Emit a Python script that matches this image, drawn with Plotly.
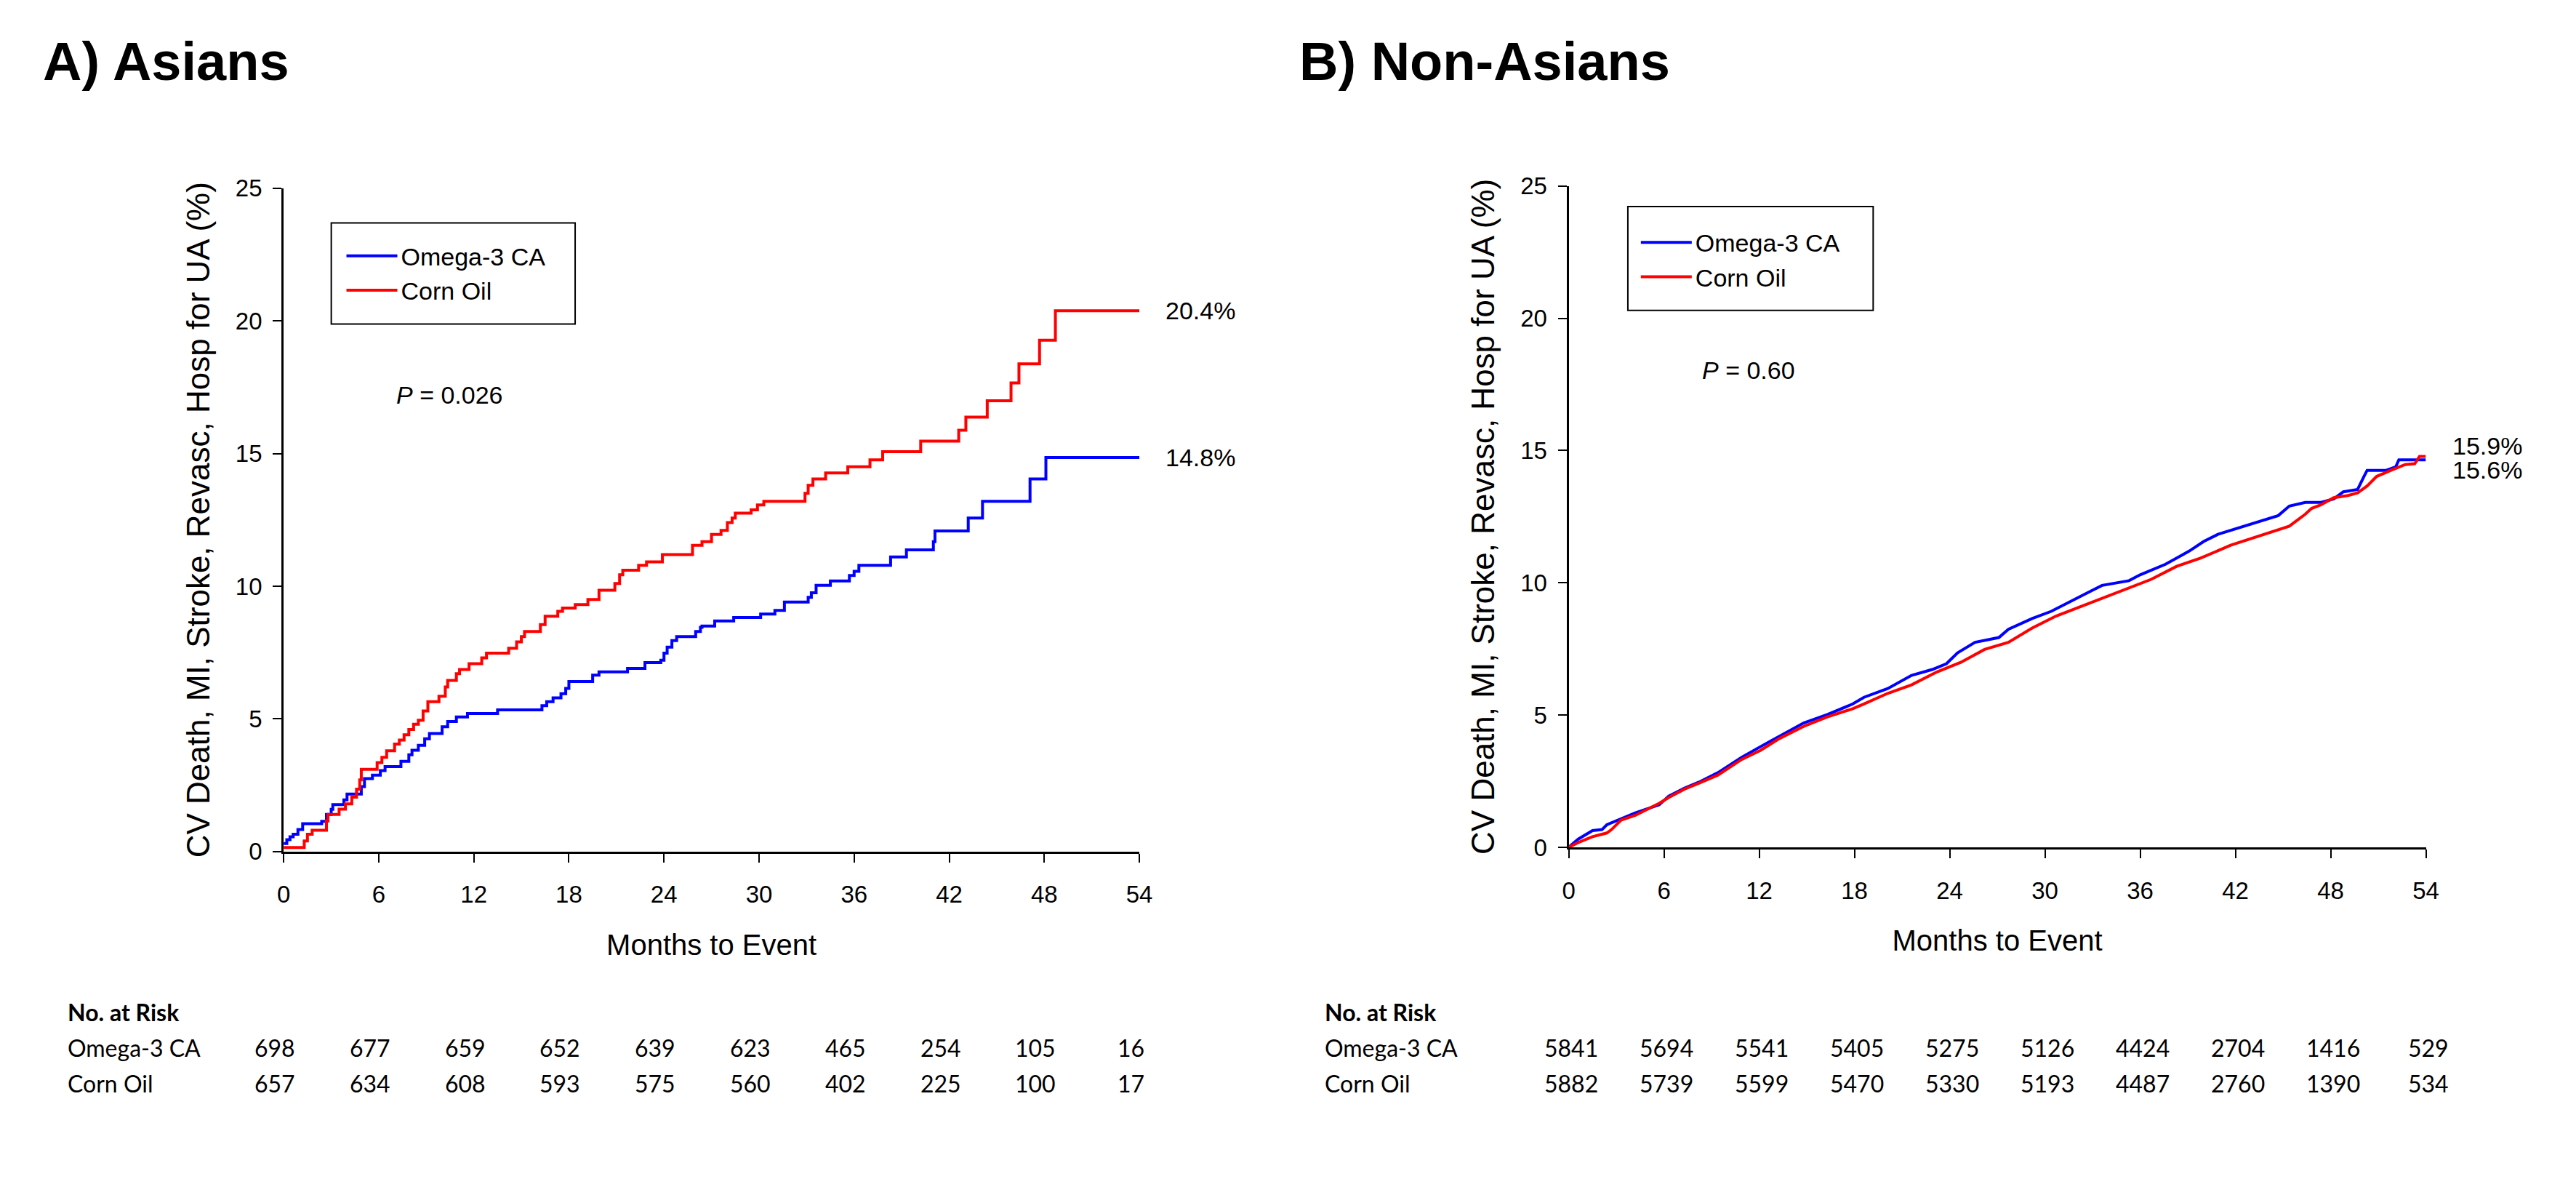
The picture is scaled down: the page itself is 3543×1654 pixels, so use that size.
import plotly.graph_objects as go

W, H = 3543, 1654

# ---------------- data ----------------
month_ticks = [0, 6, 12, 18, 24, 30, 36, 42, 48, 54]
y_ticks = [0, 5, 10, 15, 20, 25]

# Panel A (Asians) - step curves
a_omega_x = [0, 0.2, 0.4, 0.6, 0.9, 1.2, 2.4, 2.7, 3.0, 3.1, 3.8, 4.0, 4.9, 5.1, 5.6, 6.1, 6.4, 7.4, 7.9, 8.1,
             8.5, 8.9, 9.2, 10.0, 10.35, 10.9, 11.6, 13.5, 16.3, 16.6, 17.0, 17.5, 17.8, 18.0, 19.5, 19.9, 21.7,
             22.8, 23.8, 24.0, 24.2, 24.5, 24.8, 26.0, 26.3, 26.4, 27.2, 28.4, 30.1, 31.0, 31.6, 33.1, 33.3, 33.6,
             34.5, 35.7, 36.0, 36.3, 38.3, 39.3, 41.0, 41.1, 43.2, 44.1, 47.1, 48.1, 54.0]
a_omega_y = [0.3, 0.45, 0.56, 0.65, 0.83, 1.05, 1.14, 1.4, 1.59, 1.77, 1.95, 2.17, 2.45, 2.75, 2.88, 3.05, 3.2,
             3.4, 3.65, 3.82, 4.0, 4.25, 4.45, 4.7, 4.9, 5.07, 5.2, 5.34, 5.5, 5.65, 5.79, 5.95, 6.15, 6.41, 6.65,
             6.77, 6.9, 7.12, 7.21, 7.48, 7.7, 7.95, 8.1, 8.29, 8.45, 8.5, 8.69, 8.82, 8.95, 9.09, 9.4, 9.58, 9.75,
             10.03, 10.2, 10.4, 10.56, 10.79, 11.1, 11.37, 11.68, 12.08, 12.57, 13.2, 14.04, 14.85, 14.85]

a_corn_x = [0, 1.3, 1.5, 1.8, 2.7, 2.8, 3.5, 3.9, 4.3, 4.6, 4.8, 4.9, 5.9, 6.2, 6.5, 7.0, 7.3, 7.6, 7.9, 8.2,
            8.5, 8.8, 9.1, 9.8, 10.2, 10.35, 10.9, 11.1, 11.7, 12.5, 12.8, 14.2, 14.7, 15.0, 15.2, 16.2, 16.5,
            17.3, 17.6, 18.4, 19.2, 19.9, 20.9, 21.2, 21.4, 22.4, 22.9, 23.9, 25.8, 26.4, 27.0, 27.6, 28.0, 28.3,
            28.5, 29.5, 29.9, 30.3, 32.9, 33.1, 33.4, 34.2, 35.6, 37.0, 37.8, 40.2, 42.6, 43.05, 44.4, 45.9,
            46.4, 47.7, 48.7, 54.0]
a_corn_y = [0.15, 0.4, 0.65, 0.8, 1.15, 1.4, 1.6, 1.8, 2.05, 2.35, 2.7, 3.1, 3.35, 3.55, 3.8, 4.05, 4.2, 4.4,
            4.6, 4.8, 4.95, 5.3, 5.65, 5.85, 6.2, 6.45, 6.7, 6.86, 7.08, 7.3, 7.48, 7.66, 7.9, 8.1, 8.29, 8.55,
            8.87, 9.05, 9.18, 9.31, 9.5, 9.85, 10.1, 10.43, 10.6, 10.79, 10.92, 11.19, 11.54, 11.68, 11.95, 12.1,
            12.4, 12.57, 12.75, 12.88, 13.06, 13.2, 13.5, 13.8, 14.04, 14.27, 14.5, 14.76, 15.07, 15.47, 15.88,
            16.37, 16.99, 17.66, 18.38, 19.27, 20.38, 20.38]

# Panel B (Non-Asians)
b_omega_x = [0, 0.6, 1.5, 2.1, 2.4, 3.3, 4.2, 5.7, 6.3, 7.3, 8.2, 9.4, 10.9, 12.1, 13.3, 14.8, 16.3, 17.9, 18.6,
             20.1, 21.6, 22.9, 23.8, 24.5, 25.6, 27.1, 27.7, 29.2, 30.4, 31.5, 33.0, 33.6, 35.3, 36.0, 37.6, 39.1,
             40.0, 40.9, 42.4, 43.6, 44.7, 45.4, 46.4, 47.4, 48.2, 48.8, 49.7, 50.1, 50.3, 51.5, 52.1, 52.3, 53.3,
             54.0]
b_omega_y = [0, 0.31, 0.63, 0.67, 0.85, 1.08, 1.3, 1.61, 1.93, 2.24, 2.46, 2.82, 3.4, 3.81, 4.21, 4.7, 5.02,
             5.42, 5.67, 6.0, 6.5, 6.72, 6.94, 7.35, 7.75, 7.93, 8.24, 8.65, 8.92, 9.27, 9.72, 9.9, 10.08, 10.3,
             10.7, 11.2, 11.56, 11.83, 12.1, 12.32, 12.54, 12.9, 13.04, 13.04, 13.17, 13.44, 13.53, 14.02, 14.25,
             14.25, 14.38, 14.65, 14.65, 14.65]

b_corn_x = [0, 0.6, 1.5, 2.4, 2.7, 3.3, 4.2, 5.7, 6.3, 7.3, 8.2, 9.4, 10.9, 12.1, 13.3, 14.8, 16.3, 17.9, 18.6,
            20.1, 21.6, 23.2, 24.7, 26.2, 27.7, 29.2, 30.7, 32.2, 33.8, 35.3, 36.7, 38.3, 39.8, 41.7, 42.9, 44.4,
            45.4, 46.4, 46.8, 47.4, 48.2, 49.1, 49.7, 50.3, 50.9, 51.8, 52.7, 53.3, 53.6, 54.0]
b_corn_y = [0, 0.18, 0.4, 0.54, 0.67, 1.03, 1.21, 1.66, 1.88, 2.2, 2.42, 2.73, 3.32, 3.67, 4.12, 4.57, 4.93,
            5.24, 5.42, 5.82, 6.14, 6.63, 6.99, 7.48, 7.75, 8.29, 8.74, 9.09, 9.45, 9.81, 10.13, 10.62, 10.93,
            11.42, 11.65, 11.92, 12.14, 12.59, 12.81, 12.95, 13.22, 13.3, 13.4, 13.66, 14.02, 14.25, 14.47, 14.5,
            14.78, 14.78]

series_names = ["Omega-3 CA", "Corn Oil"]
a_risk_omega = [698, 677, 659, 652, 639, 623, 465, 254, 105, 16]
a_risk_corn = [657, 634, 608, 593, 575, 560, 402, 225, 100, 17]
b_risk_omega = [5841, 5694, 5541, 5405, 5275, 5126, 4424, 2704, 1416, 529]
b_risk_corn = [5882, 5739, 5599, 5470, 5330, 5193, 4487, 2760, 1390, 534]

a_end_labels = ["20.4%", "14.8%"]
b_end_labels = ["15.9%", "15.6%"]
a_pvalue = "0.026"
b_pvalue = "0.60"

# ---------------- styling ----------------
BLUE = "#0000ff"
RED = "#ff0000"
ARIAL = "Liberation Sans, Arial, sans-serif"
TABLE_FONT = "Lato, Liberation Sans, sans-serif"


def px_x(p):
    return p / W


def px_y(p):
    return (H - p) / H


fig = go.Figure()
fig.add_trace(go.Scatter(x=a_omega_x, y=a_omega_y, mode="lines", line=dict(color=BLUE, width=4, shape="hv"),
                         name=series_names[0], xaxis="x", yaxis="y", legend="legend"))
fig.add_trace(go.Scatter(x=a_corn_x, y=a_corn_y, mode="lines", line=dict(color=RED, width=4, shape="hv"),
                         name=series_names[1], xaxis="x", yaxis="y", legend="legend"))
fig.add_trace(go.Scatter(x=b_omega_x, y=b_omega_y, mode="lines", line=dict(color=BLUE, width=4),
                         name=series_names[0], xaxis="x2", yaxis="y2", legend="legend2"))
fig.add_trace(go.Scatter(x=b_corn_x, y=b_corn_y, mode="lines", line=dict(color=RED, width=4),
                         name=series_names[1], xaxis="x2", yaxis="y2", legend="legend2"))

ytitle = "CV Death, MI, Stroke, Revasc, Hosp for UA (%)"


def xax(domain, anchor):
    return dict(domain=domain, anchor=anchor, range=[0, 54], tickvals=month_ticks, ticks="outside",
                ticklen=12, tickwidth=2, tickcolor="black", showline=True, linecolor="black", linewidth=3,
                showgrid=False, zeroline=False, tickfont=dict(family=ARIAL, size=33, color="black"),
                ticklabelstandoff=16,
                title=dict(text="Months to Event", font=dict(family=ARIAL, size=40, color="black"), standoff=38))


def yax(domain, anchor):
    return dict(domain=domain, anchor=anchor, range=[0, 25], tickvals=y_ticks, ticks="outside",
                ticklen=12, tickwidth=2, tickcolor="black", showline=True, linecolor="black", linewidth=3,
                showgrid=False, zeroline=False, tickfont=dict(family=ARIAL, size=33, color="black"),
                ticklabelstandoff=8,
                title=dict(text=ytitle, font=dict(family=ARIAL, size=44, color="black"), standoff=22))


legend_common = dict(xanchor="left", yanchor="top", bgcolor="rgba(0,0,0,0)", borderwidth=0,
                     font=dict(family=ARIAL, size=34, color="black"), itemwidth=70, tracegroupgap=0)

fig.update_layout(
    width=W, height=H, margin=dict(l=0, r=0, t=0, b=0),
    paper_bgcolor="white", plot_bgcolor="white",
    xaxis=xax([px_x(376), px_x(1562)], "y"),
    yaxis=yax([px_y(1171), px_y(238)], "x"),
    xaxis2=xax([px_x(2157), px_x(3345)], "y2"),
    yaxis2=yax([px_y(1165), px_y(235)], "x2"),
    legend=dict(x=px_x(458), y=px_y(304), **legend_common),
    legend2=dict(x=px_x(2252), y=px_y(285), **legend_common),
    showlegend=True,
)

# legend boxes
fig.add_shape(type="rect", xref="paper", yref="paper", x0=px_x(442), x1=px_x(780), y0=px_y(429), y1=px_y(287),
              line=dict(color="black", width=2), fillcolor="rgba(0,0,0,0)")
fig.add_shape(type="rect", xref="paper", yref="paper", x0=px_x(2239), x1=px_x(2579), y0=px_y(410), y1=px_y(264),
              line=dict(color="black", width=2), fillcolor="rgba(0,0,0,0)")

ann = []
# panel titles
ann.append(dict(text="<b>A) Asians</b>", xref="paper", yref="paper", x=px_x(40), y=px_y(60), xanchor="left",
                yanchor="middle", showarrow=False, font=dict(family=ARIAL, size=74, color="black")))
ann.append(dict(text="<b>B) Non-Asians</b>", xref="paper", yref="paper", x=px_x(1782), y=px_y(60),
                xanchor="left", yanchor="middle", showarrow=False, font=dict(family=ARIAL, size=74, color="black")))
# p-values
ann.append(dict(text="<i>P</i> = " + a_pvalue, xref="x", yref="y", x=7.0, y=17.2, xanchor="left",
                yanchor="middle", showarrow=False, font=dict(family=ARIAL, size=34, color="black")))
ann.append(dict(text="<i>P</i> = " + b_pvalue, xref="x2", yref="y2", x=8.3, y=18.05, xanchor="left",
                yanchor="middle", showarrow=False, font=dict(family=ARIAL, size=34, color="black")))
# end labels
ann.append(dict(text=a_end_labels[0], xref="x", yref="y", x=54, y=a_corn_y[-1], xanchor="left", xshift=34,
                yanchor="middle", showarrow=False, font=dict(family=ARIAL, size=34, color="black")))
ann.append(dict(text=a_end_labels[1], xref="x", yref="y", x=54, y=a_omega_y[-1], xanchor="left", xshift=34,
                yanchor="middle", showarrow=False, font=dict(family=ARIAL, size=34, color="black")))
ann.append(dict(text=b_end_labels[0], xref="x2", yref="y2", x=54, y=b_omega_y[-1], xanchor="left", xshift=34,
                yshift=19, yanchor="middle", showarrow=False, font=dict(family=ARIAL, size=34, color="black")))
ann.append(dict(text=b_end_labels[1], xref="x2", yref="y2", x=54, y=b_corn_y[-1], xanchor="left", xshift=34,
                yshift=-19, yanchor="middle", showarrow=False, font=dict(family=ARIAL, size=34, color="black")))

# risk tables
row_y = [1397, 1447, 1497]
for xr, left_px, shift, rows in [("x", 75, -12, (a_risk_omega, a_risk_corn)),
                                 ("x2", 1817, 3, (b_risk_omega, b_risk_corn))]:
    ann.append(dict(text="<b>No. at Risk</b>", xref="paper", yref="paper", x=px_x(left_px), y=px_y(row_y[0]),
                    xanchor="left", yanchor="middle", showarrow=False,
                    font=dict(family=TABLE_FONT, size=32, color="black")))
    for i, (name, vals) in enumerate(zip(series_names, rows)):
        ann.append(dict(text=name, xref="paper", yref="paper", x=px_x(left_px), y=px_y(row_y[i + 1]),
                        xanchor="left", yanchor="middle", showarrow=False,
                        font=dict(family=TABLE_FONT, size=32, color="black")))
        for m, v in zip(month_ticks, vals):
            ann.append(dict(text=str(v), xref=xr, yref="paper", x=m, y=px_y(row_y[i + 1]), xanchor="center",
                            xshift=shift, yanchor="middle", showarrow=False,
                            font=dict(family=TABLE_FONT, size=32, color="black")))

fig.update_layout(annotations=ann)
fig.write_html("out.html")
